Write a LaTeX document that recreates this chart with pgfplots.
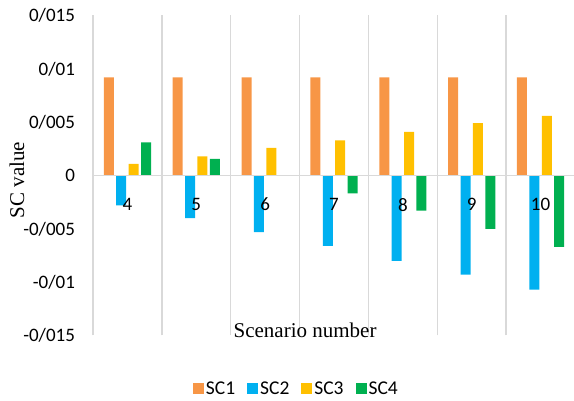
\documentclass[border=0pt]{standalone}
\usepackage{fontspec}
\setmainfont{Carlito}
\newfontfamily\timesf{Liberation Serif}
\usepackage{pgfplots}
\pgfplotsset{compat=1.18}
\definecolor{c1}{HTML}{F79646}
\definecolor{c2}{HTML}{00B0F0}
\definecolor{c3}{HTML}{FFC000}
\definecolor{c4}{HTML}{00B050}
\definecolor{gridc}{HTML}{D9D9D9}
\begin{document}
\begin{tikzpicture}[x=1pt,y=1pt]
\begin{axis}[
  axis on top,
  at={(93pt,65.5pt)}, anchor=south west,
  scale only axis, width=482pt, height=320pt,
  ybar=2.4pt, bar width=10pt,
  xmin=-0.5, xmax=6.5, ymin=-0.015, ymax=0.015,
  enlargelimits=false,
  scaled y ticks=false,
  axis x line=middle, axis y line=left,
  axis line style={-, draw=gridc, line width=1.5pt},
  hide obscured x ticks=false, hide obscured y ticks=false,
  xtick={0,1,2,3,4,5,6}, xticklabels={4,5,6,7,8,9,10},
  minor xtick={0.5,1.5,2.5,3.5,4.5,5.5,6.5},
  xminorgrids=true,
  minor grid style={draw=gridc, line width=1.5pt},
  ytick={-0.015,-0.01,-0.005,0,0.005,0.01,0.015},
  yticklabels={-0/015,-0/01,-0/005,0,0/005,0/01,0/015},
  major tick length=0pt, minor tick length=0pt,
  tick style={draw=none},
  every tick label/.append style={font=\fontsize{19}{22}\selectfont},
  yticklabel style={anchor=east, xshift=-14.5pt},
  xticklabel style={anchor=north, yshift=-19pt},
  xlabel={Scenario number},
  xlabel style={at={(rel axis cs:0.44,0)}, anchor=base, yshift=-2pt, font=\timesf\fontsize{21}{25}\selectfont},
  ylabel={SC value},
  ylabel style={at={(rel axis cs:0,0.5)}, anchor=center, yshift=76pt, xshift=-4.5pt, font=\timesf\fontsize{21}{25}\selectfont},
  legend style={draw=none, fill=none, legend columns=4, at={(rel axis cs:0.422,-0.167)}, anchor=center,
    font=\fontsize{19.5}{22}\selectfont,
    /tikz/every even column/.append style={column sep=10pt}},
  legend image code/.code={\fill[#1] (0pt,-5.5pt) rectangle (11pt,5.5pt);},
  clip=false,
]
\addplot[fill=c1, draw=none] coordinates {(0,0.0092) (1,0.0092) (2,0.0092) (3,0.0092) (4,0.0092) (5,0.0092) (6,0.0092)};
\addplot[fill=c2, draw=none] coordinates {(0,-0.0028) (1,-0.0040) (2,-0.0053) (3,-0.0066) (4,-0.0080) (5,-0.0093) (6,-0.0107)};
\addplot[fill=c3, draw=none] coordinates {(0,0.0011) (1,0.0018) (2,0.0026) (3,0.0033) (4,0.0041) (5,0.0049) (6,0.0056)};
\addplot[fill=c4, draw=none] coordinates {(0,0.0031) (1,0.00155) (2,0) (3,-0.00167) (4,-0.0033) (5,-0.0050) (6,-0.0067)};
\legend{SC1,SC2,SC3,SC4}
\end{axis}
\pgfresetboundingbox
\path (0,0) rectangle (574,401);
\end{tikzpicture}
\end{document}
